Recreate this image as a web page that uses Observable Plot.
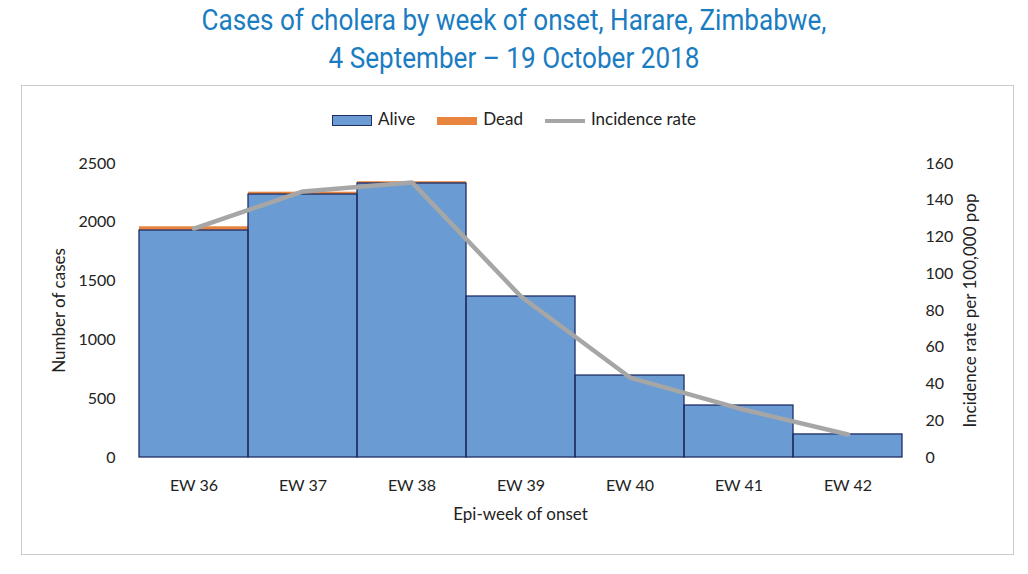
<!DOCTYPE html>
<html><head><meta charset="utf-8">
<script src="https://cdn.jsdelivr.net/npm/d3@7"></script>
<script src="https://cdn.jsdelivr.net/npm/@observablehq/plot@0.6"></script>
<style>
body{margin:0;width:1028px;height:574px;background:#fff;font-family:Lato,"Open Sans",sans-serif;position:relative;overflow:hidden}
#title{position:absolute;top:1px;left:0;width:1028px;text-align:center;color:#1a7cc1;font-family:Roboto,sans-serif;font-size:29px;line-height:38px;transform:scaleX(0.9);}
#box{position:absolute;left:21px;top:85px;width:993px;height:470px;border:1px solid #ccc;box-sizing:border-box}
#legend{position:absolute;top:108px;left:0;width:1028px;display:flex;justify-content:center;gap:22px;font-size:17px;color:#222;align-items:center}
#legend span.sw{display:inline-block;width:40px;height:11px;margin-right:6px;vertical-align:middle}
#chart{position:absolute;left:0;top:140px}
</style></head><body>
<div id="title">Cases of cholera by week of onset, Harare, Zimbabwe,<br>4 September – 19 October 2018</div>
<div id="box"></div>
<div id="legend">
<div><span class="sw" style="background:#6a9bd2;border:1px solid #1f2f66;box-sizing:border-box"></span>Alive</div>
<div><span class="sw" style="background:#e8843d;height:8px"></span>Dead</div>
<div><span class="sw" style="background:#a6a6a6;height:4px"></span>Incidence rate</div>
</div>
<div id="chart"></div>
<script>
const weeks=["EW 36","EW 37","EW 38","EW 39","EW 40","EW 41","EW 42"];
const alive=[1930,2236,2330,1369,697,442,196];
const dead=[32,20,15,0,0,0,0];
const incidence=[124.6,144.8,149.7,87.6,43.5,26.7,12.5];
const leftTicks=[0,500,1000,1500,2000,2500];
const rightTicks=[0,20,40,60,80,100,120,140,160];
const k=2500/160;
const rows=[];
weeks.forEach((w,i)=>{rows.push({w,s:"Alive",v:alive[i]});rows.push({w,s:"Dead",v:dead[i]});});
const line=weeks.map((w,i)=>({w,r:incidence[i]*k}));
const p=Plot.plot({
 width:1028,height:400,marginLeft:137,marginRight:125,marginTop:23,marginBottom:83,
 style:{fontFamily:"Lato,'Open Sans',sans-serif",fontSize:"16px",color:"#222"},
 x:{domain:weeks,padding:0,label:null},
 y:{domain:[0,2500],label:null},
 color:{domain:["Alive","Dead"],range:["#6a9bd2","#e8843d"]},
 marks:[
  Plot.barY(rows,Plot.stackY({x:"w",y:"v",fill:"s",order:["Alive","Dead"]})),
  Plot.barY(weeks.map((w,i)=>({w,v:alive[i]})),{x:"w",y:"v",fill:"none",stroke:"#1f2f66",strokeWidth:1.3}),
  Plot.line(line,{x:"w",y:"r",stroke:"#a6a6a6",strokeWidth:4.5}),
  Plot.axisX({tickSize:0,tickPadding:22,fontSize:16}),
  Plot.text(["Epi-week of onset"],{frameAnchor:"bottom",dy:62,fontSize:17,textAnchor:"middle"}),
  Plot.axisY({ticks:leftTicks,tickSize:0,tickPadding:22,tickFormat:d=>String(d),label:null,fontSize:16}),
  Plot.text(["Number of cases"],{frameAnchor:"left",dx:-78,rotate:-90,fontSize:17,textAnchor:"middle"}),
  Plot.axisY(rightTicks.map(t=>t*k),{anchor:"right",tickSize:0,tickPadding:22,tickFormat:d=>String(Math.round(d/k)),label:null,fontSize:16,textAnchor:"start"}),
  Plot.text(["Incidence rate per 100,000 pop"],{frameAnchor:"right",dx:67,rotate:-90,fontSize:17,textAnchor:"middle"})
 ]
});
document.getElementById("chart").appendChild(p);
</script></body></html>
